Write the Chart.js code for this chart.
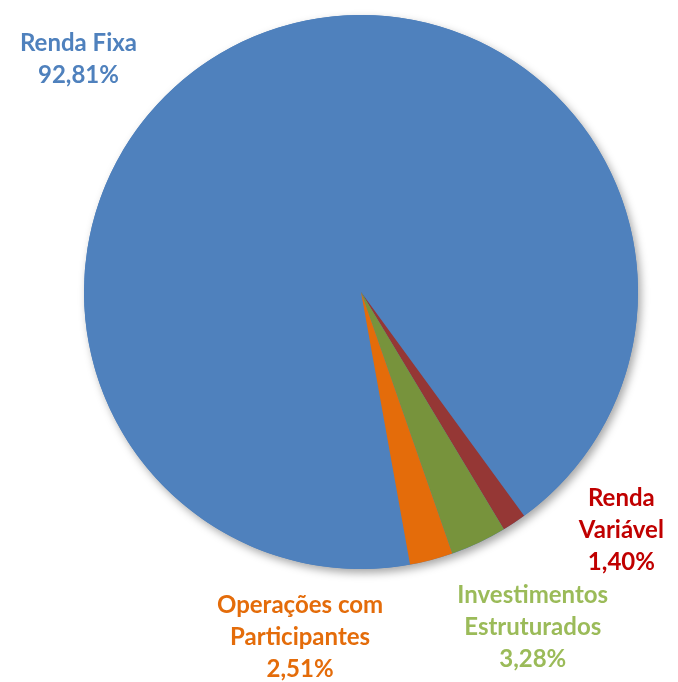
<!DOCTYPE html>
<html>
<head>
<meta charset="utf-8">
<script src="https://cdn.jsdelivr.net/npm/chart.js@4"></script>
<style>
  html, body { margin: 0; padding: 0; background: #fff; }
  #wrap { width: 678px; height: 682px; }
</style>
</head>
<body>
<div id="wrap"><canvas id="pieChart"></canvas></div>
<script>
// categories (one line per array entry)
const categories = [
  ['Renda Fixa'],
  ['Renda', 'Variável'],
  ['Investimentos', 'Estruturados'],
  ['Operações com', 'Participantes']
];
const shares = [92.81, 1.40, 3.28, 2.51];
const sliceColors = ['#4F81BD', '#953735', '#77933C', '#E46C0A'];
const labelColors = ['#4F81BD', '#C00000', '#9BBB59', '#E46C0A'];

// label anchors, as a fraction of the radius from the pie centre
const labelSpots = [[-1.02, -0.84], [0.94, 0.86], [0.62, 1.21], [-0.22, 1.245]];

const fmt = v => v.toFixed(2).replace('.', ',') + '%';

// soft shadow behind the whole pie
const pieShadow = {
  id: 'pieShadow',
  beforeDatasetsDraw(chart) {
    const arc = chart.getDatasetMeta(0).data[0];
    if (!arc) return;
    const ctx = chart.ctx;
    ctx.save();
    ctx.shadowColor = 'rgba(0,0,0,0.35)';
    ctx.shadowBlur = 9;
    ctx.shadowOffsetX = 3;
    ctx.shadowOffsetY = 4;
    ctx.fillStyle = '#4F81BD';
    ctx.beginPath();
    ctx.arc(arc.x, arc.y, arc.outerRadius, 0, Math.PI * 2);
    ctx.fill();
    ctx.restore();
  }
};

// outside labels
const outsideLabels = {
  id: 'outsideLabels',
  afterDraw(chart) {
    const meta = chart.getDatasetMeta(0);
    const ctx = chart.ctx;
    ctx.save();
    ctx.font = 'bold 24px Lato, "Liberation Sans", sans-serif';
    ctx.textAlign = 'center';
    ctx.textBaseline = 'middle';
    meta.data.forEach((arc, i) => {
      const lines = categories[i].concat([fmt(shares[i])]);
      const r = arc.outerRadius;
      const x = arc.x + labelSpots[i][0] * r;
      const y = arc.y + labelSpots[i][1] * r;
      const lh = 32;
      const top = y - (lines.length - 1) * lh / 2;
      ctx.fillStyle = labelColors[i];
      lines.forEach((t, k) => ctx.fillText(t, x, top + k * lh));
    });
    ctx.restore();
  }
};

new Chart(document.getElementById('pieChart'), {
  type: 'pie',
  data: {
    labels: categories.map(c => c.join(' ')),
    datasets: [{
      data: shares,
      backgroundColor: sliceColors,
      borderWidth: 0
    }]
  },
  options: {
    responsive: true,
    maintainAspectRatio: false,
    animation: false,
    rotation: 169.8,
    layout: { padding: { left: 84, right: 40, top: 15, bottom: 113 } },
    plugins: {
      legend: { display: false },
      tooltip: { enabled: false }
    }
  },
  plugins: [pieShadow, outsideLabels]
});
</script>
</body>
</html>
